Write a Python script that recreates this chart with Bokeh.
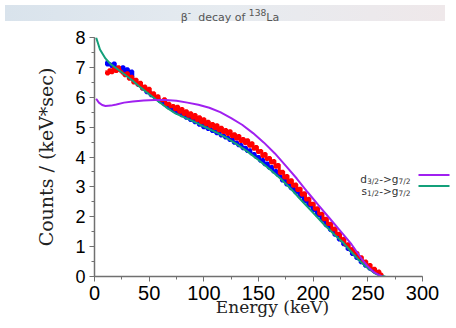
from bokeh.plotting import figure
from bokeh.models import Range1d, Label, Div, SingleIntervalTicker
from bokeh.layouts import column
from bokeh.embed import file_html
from bokeh.resources import INLINE

# ---------------- data ----------------
energy_bins = [10, 12, 14, 16, 18, 20, 22, 24, 26, 28,
               30, 32, 34, 36, 38, 40, 42, 44, 46, 48,
               50, 52, 54, 56, 58, 60, 62, 64, 66, 68,
               70, 72, 74, 76, 78, 80, 82, 84, 86, 88,
               90, 92, 94, 96, 98, 100, 102, 104, 106, 108,
               110, 112, 114, 116, 118, 120, 122, 124, 126, 128,
               130, 132, 134, 136, 138, 140, 142, 144, 146, 148,
               150, 152, 154, 156, 158, 160, 162, 164, 166, 168,
               170, 172, 174, 176, 178, 180, 182, 184, 186, 188,
               190, 192, 194, 196, 198, 200, 202, 204, 206, 208,
               210, 212, 214, 216, 218, 220, 222, 224, 226, 228,
               230, 232, 234, 236, 238, 240, 242, 244, 246, 248,
               250, 252, 254, 256, 258, 260, 262, 264]

red_counts = [6.85, 6.78, 6.92, 6.82, 6.98, 6.86, 7.02, 6.88, 6.80, 6.72,
              6.82, 6.60, 6.70, 6.48, 6.60, 6.40, 6.50, 6.28, 6.38, 6.20,
              6.30, 6.08, 6.15, 5.98, 6.05, 5.90, 5.88, 5.95, 5.75, 5.80,
              5.68, 5.72, 5.58, 5.70, 5.50, 5.62, 5.42, 5.55, 5.36, 5.48,
              5.30, 5.42, 5.22, 5.35, 5.15, 5.28, 5.08, 5.20, 5.02, 5.12,
              4.95, 5.08, 4.88, 5.00, 4.82, 4.92, 4.75, 4.88, 4.68, 4.78,
              4.60, 4.72, 4.52, 4.62, 4.45, 4.58, 4.36, 4.48, 4.26, 4.35,
              4.15, 4.22, 4.02, 4.12, 3.92, 3.98, 3.80, 3.88, 3.66, 3.75,
              3.45, 3.52, 3.30, 3.38, 3.15, 3.24, 3.02, 3.10, 2.88, 2.95,
              2.72, 2.80, 2.56, 2.62, 2.40, 2.45, 2.25, 2.30, 2.08, 2.12,
              1.90, 1.95, 1.74, 1.78, 1.56, 1.62, 1.40, 1.45, 1.22, 1.28,
              1.05, 1.10, 0.90, 0.94, 0.75, 0.80, 0.62, 0.66, 0.48, 0.52,
              0.36, 0.40, 0.26, 0.28, 0.16, 0.18, 0.08, 0.05]

blue_counts = [7.18, 7.08, 7.12, 7.02, 7.15, 6.95, 7.00, 6.88, 7.02, 6.85,
               6.95, 6.68, 6.88, 6.55, 6.50, 6.40, 6.42, 6.28, 6.30, 6.15,
               6.20, 6.05, 6.08, 5.94, 5.98, 5.85, 5.88, 5.75, 5.80, 5.64,
               5.68, 5.55, 5.60, 5.46, 5.52, 5.38, 5.44, 5.30, 5.35, 5.22,
               5.26, 5.15, 5.20, 5.06, 5.12, 4.98, 5.04, 4.92, 4.96, 4.85,
               4.90, 4.78, 4.82, 4.70, 4.74, 4.64, 4.66, 4.55, 4.60, 4.46,
               4.50, 4.38, 4.42, 4.28, 4.33, 4.18, 4.24, 4.10, 4.12, 3.98,
               4.02, 3.86, 3.92, 3.74, 3.80, 3.62, 3.68, 3.50, 3.55, 3.38,
               3.36, 3.20, 3.24, 3.06, 3.10, 2.94, 2.96, 2.80, 2.82, 2.66,
               2.68, 2.50, 2.52, 2.36, 2.36, 2.20, 2.20, 2.04, 2.04, 1.88,
               1.86, 1.70, 1.70, 1.54, 1.54, 1.38, 1.36, 1.22, 1.20, 1.06,
               1.04, 0.90, 0.88, 0.74, 0.72, 0.60, 0.58, 0.46, 0.44, 0.34,
               0.34, 0.24, 0.22, 0.15, 0.13, 0.08, 0.05, 0.02]

s_energy = [1.5, 5, 10, 15, 20, 27, 35, 42, 50, 57, 65, 73, 80, 90, 100, 110, 120,
            130, 140, 150, 160, 170, 180, 190, 200, 210, 220, 227, 235, 242,
            250, 257, 262, 266]
s_counts = [8.0, 7.6, 7.3, 7.1, 6.97, 6.78, 6.55, 6.33, 6.1, 5.9, 5.68, 5.48, 5.36,
            5.2, 5.02, 4.85, 4.66, 4.43, 4.18, 3.9, 3.6, 3.28, 2.92, 2.52, 2.13,
            1.74, 1.38, 1.15, 0.82, 0.54, 0.28, 0.09, 0.02, 0.0]

d_energy = [1.5, 4, 7, 10, 15, 20, 27, 35, 45, 55, 65, 75, 85, 95, 105, 115, 125,
            135, 145, 155, 165, 175, 185, 195, 205, 215, 225, 235, 245, 250,
            255, 260, 263]
d_counts = [5.95, 5.82, 5.74, 5.71, 5.72, 5.76, 5.82, 5.86, 5.89, 5.91, 5.91, 5.88,
            5.82, 5.75, 5.65, 5.5, 5.3, 5.08, 4.8, 4.48, 4.12, 3.7, 3.28, 2.82,
            2.38, 1.95, 1.52, 1.08, 0.56, 0.34, 0.16, 0.05, 0.0]

x_ticks_interval = 50
y_ticks_interval = 1

# ---------------- styling / geometry ----------------
FRAME_W = 356
KX = 328 / 300.0          # px per keV
KY = 239 / 8.0            # px per count unit
X_END = FRAME_W / KX

PURPLE = "#a020f0"
GREEN = "#13a07a"
AXIS_C = "#707070"


def ex(px):   # image x pixel -> data x (style helper for legend placement)
    return (px - 92) / KX


def vy(py):   # image y pixel -> data y
    return (276 - py) / KY


p = figure(width=450, height=294, x_range=Range1d(0, X_END), y_range=Range1d(0, 8),
           output_backend="svg", toolbar_location=None,
           min_border_left=94, min_border_right=0,
           min_border_top=11, min_border_bottom=44)
p.grid.visible = False
p.outline_line_color = None
p.background_fill_color = "white"
p.border_fill_color = "white"

p.xaxis.ticker = SingleIntervalTicker(interval=x_ticks_interval, num_minor_ticks=2)
p.yaxis.ticker = SingleIntervalTicker(interval=y_ticks_interval, num_minor_ticks=2)
p.xaxis.bounds = (0, 300)
for ax in (p.xaxis, p.yaxis):
    ax.axis_line_color = AXIS_C
    ax.axis_line_width = 1.5
    ax.major_tick_line_color = AXIS_C
    ax.minor_tick_line_color = AXIS_C
    ax.major_tick_in = 0
    ax.major_tick_out = 5
    ax.minor_tick_in = 0
    ax.minor_tick_out = 3
    ax.major_label_text_font = "Liberation Sans"
    ax.major_label_text_color = "black"
    ax.axis_label_text_font = "DejaVu Serif"
    ax.axis_label_text_font_style = "normal"
    ax.axis_label_text_color = "#222222"
    ax.major_label_standoff = 4

p.xaxis.major_label_text_font_size = "20px"
p.yaxis.major_label_text_font_size = "18px"
p.xaxis.axis_label = "Energy (keV)"
p.xaxis.axis_label_text_font_size = "17px"
p.xaxis.axis_label_standoff = -6
p.yaxis.axis_label = "Counts / (keV*sec)"
p.yaxis.axis_label_text_font_size = "19px"
p.yaxis.axis_label_standoff = 15

# data histograms
p.step(energy_bins, blue_counts, mode="center", line_color="#0000ff", line_width=3)
p.step(energy_bins, red_counts, mode="center", line_color="#ff0000", line_width=3)
# model curves
p.line(s_energy, s_counts, line_color=GREEN, line_width=2)
p.line(d_energy, d_counts, line_color=PURPLE, line_width=2)

# legend (manual, for subscripts)
p.line([ex(416), ex(447)], [vy(174.5), vy(174.5)], line_color=PURPLE, line_width=2)
p.line([ex(416), ex(447)], [vy(185.5), vy(185.5)], line_color=GREEN, line_width=2)

LEG_FONT = "DejaVu Sans"
LEG_C = "#333333"


def leg_piece(txt, right_px, base_py, size):
    p.add_layout(Label(x=ex(right_px), y=vy(base_py), text=txt, text_align="right",
                       text_baseline="alphabetic", text_font=LEG_FONT,
                       text_font_size=size, text_color=LEG_C))


for base, first, firstsub in ((178.5, "d", "3/2"), (190.5, "s", "1/2")):
    leg_piece("7/2", 408, base + 2.5, "7.5px")
    leg_piece("->g", 395.9, base, "10.5px")
    leg_piece(firstsub, 376.6, base + 2.5, "7.5px")
    leg_piece(first, 364.5, base, "10.5px")

title = Div(text='β<sup>-</sup>&nbsp; decay of <sup>138</sup>La', width=440, height=16,
            styles={"background": "linear-gradient(90deg, #d9e3ec 0%, #e6ebf0 50%, #efe8ea 100%)",
                    "text-align": "center", "font-size": "11px", "color": "#555555",
                    "line-height": "16px", "font-family": "DejaVu Sans",
                    "text-indent": "10px"})

layout = column(title, p, spacing=0)

with open("out.html", "w") as f:
    f.write(file_html(layout, INLINE))
